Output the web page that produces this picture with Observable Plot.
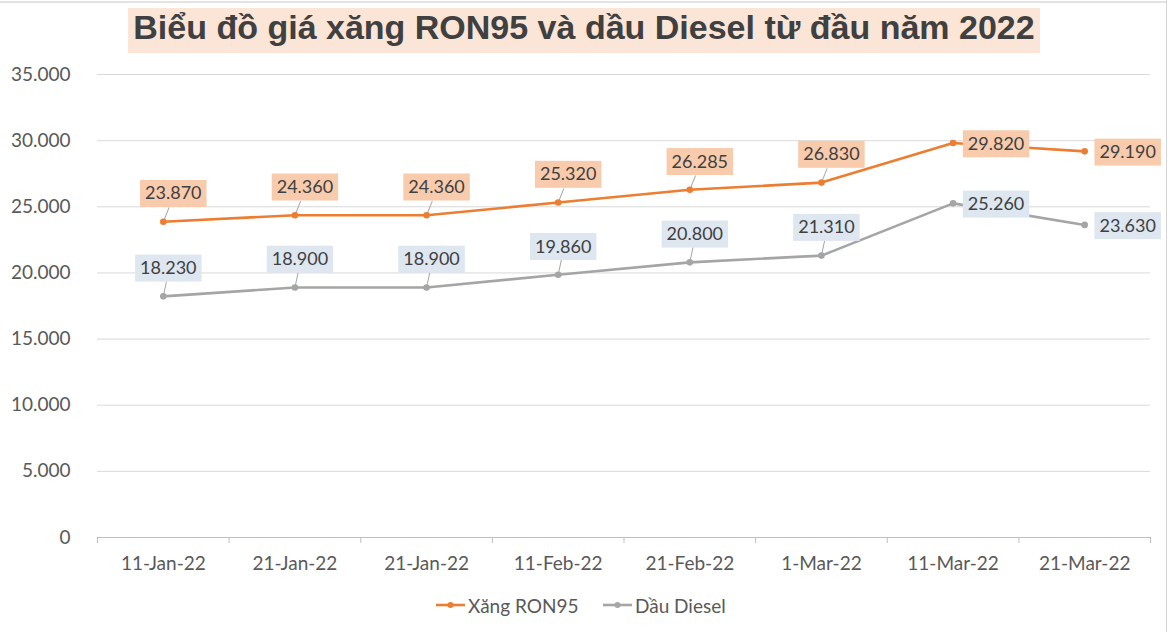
<!DOCTYPE html>
<html>
<head>
<meta charset="utf-8">
<script src="https://cdn.jsdelivr.net/npm/d3@7"></script>
<script src="https://cdn.jsdelivr.net/npm/@observablehq/plot@0.6"></script>
<style>
  body { margin: 0; background: #fff; }
  #wrap { width: 1171px; height: 632px; position: relative; overflow: hidden; background: #fff; }
  #frameTop { position: absolute; left: 0; top: 1px; width: 1166px; height: 0; border-top: 2px solid #e3e3e3; }
  #frameRight { position: absolute; left: 1166px; top: 0; width: 0; height: 632px; border-left: 1px solid #d4d4d4; }
  #title { height: 64px; position: relative; }
  #title span {
    position: absolute; left: 128px; top: 8px; width: 912px; height: 45px;
    background: #fbe5d6; color: #404040; text-align: center; line-height: 47px;
    font: bold 34px "Liberation Sans", Arial, sans-serif; white-space: nowrap;
  }
  #chart { height: 526px; }
  #legend { height: 42px; position: relative; font: 19px Lato, "Open Sans", sans-serif; color: #595959; }
  .item { position: absolute; top: 0; height: 30px; display: flex; align-items: center; }
  .item svg { margin-right: 3px; }
</style>
</head>
<body>
<div id="wrap">
  <div id="frameTop"></div>
  <div id="frameRight"></div>
  <div id="title"><span>Biểu đồ giá xăng RON95 và dầu Diesel từ đầu năm 2022</span></div>
  <div id="chart"></div>
  <div id="legend"></div>
</div>
<script>
const dates = ["11-Jan-22", "21-Jan-22", "21-Jan-22", "11-Feb-22", "21-Feb-22", "1-Mar-22", "11-Mar-22", "21-Mar-22"];
const ron95 = [23870, 24360, 24360, 25320, 26285, 26830, 29820, 29190];
const diesel = [18230, 18900, 18900, 19860, 20800, 21310, 25260, 23630];
const yTicks = [0, 5000, 10000, 15000, 20000, 25000, 30000, 35000];
const seriesNames = ["Xăng RON95", "Dầu Diesel"];
const seriesColors = ["#ed7d31", "#a5a5a5"];
const boxColors = ["#f8cbad", "#dee6f0"];

const vn = d3.formatLocale({decimal: ",", thousands: ".", grouping: [3], currency: ["", "₫"]});
const fmt = vn.format(",d");

const idx = d3.range(dates.length);
const ronRows = idx.map(i => ({i, value: ron95[i]}));
const dieselRows = idx.map(i => ({i, value: diesel[i]}));
const nAbove = dates.length - 2; // last two labels sit to the right of their point

function seriesMarks(rows, color, name, ldx) {
  const above = rows.filter(d => d.i < nAbove);
  const right = rows.filter(d => d.i >= nAbove);
  const tag = () => "lab-" + name;
  return [
    Plot.vector(above, {
      x: "i", y: "value", length: 15, rotate: ldx > 7 ? 22 : 12, anchor: "start",
      stroke: "#a6a6a6", strokeWidth: 1,
      shape: {draw(ctx, l) { ctx.moveTo(0, 0); ctx.lineTo(0, -l); }}
    }),
    Plot.line(rows, {x: "i", y: "value", stroke: color, strokeWidth: 2.6}),
    Plot.dot(rows, {x: "i", y: "value", fill: color, r: 3.3}),
    Plot.text(above, {x: "i", y: "value", text: d => fmt(d.value), dx: ldx, dy: -28,
      fontSize: 18, fill: "#404040", ariaLabel: tag}),
    Plot.text(right, {x: "i", y: "value", text: d => fmt(d.value), dx: 43, dy: 1,
      fontSize: 18, fill: "#404040", ariaLabel: tag})
  ];
}

const chart = Plot.plot({
  width: 1171,
  height: 526,
  marginTop: 10,
  marginBottom: 53,
  marginLeft: 97,
  marginRight: 21,
  style: {fontFamily: "Lato, 'Open Sans', sans-serif", background: "transparent", overflow: "visible"},
  x: {type: "linear", domain: [-0.5, dates.length - 0.5]},
  y: {domain: [0, 35000]},
  marks: [
    Plot.gridY(yTicks.filter(v => v > 0), {stroke: "#d9d9d9", strokeOpacity: 1, strokeWidth: 1}),
    Plot.ruleY([0], {stroke: "#bfbfbf", strokeWidth: 1}),
    Plot.axisY(yTicks, {tickSize: 0, tickPadding: 27, tickFormat: fmt, fontSize: 19, fill: "#595959", label: null}),
    Plot.axisX(idx, {tickSize: 0, tickPadding: 19, tickFormat: i => dates[i], fontSize: 19, fill: "#595959", label: null}),
    Plot.axisX(d3.range(dates.length + 1).map(k => k - 0.5), {tickSize: 6, stroke: "#bfbfbf", tickFormat: () => "", label: null}),
    ...seriesMarks(ronRows, seriesColors[0], "ron", 10),
    ...seriesMarks(dieselRows, seriesColors[1], "diesel", 5)
  ]
});
document.getElementById("chart").append(chart);

// background boxes behind data labels
const NS = "http://www.w3.org/2000/svg";
chart.querySelectorAll('text[aria-label^="lab-"]').forEach(t => {
  const fill = t.getAttribute("aria-label") === "lab-ron" ? boxColors[0] : boxColors[1];
  const b = t.getBBox();
  const r = document.createElementNS(NS, "rect");
  r.setAttribute("x", b.x - 5);
  r.setAttribute("y", b.y - 1.5);
  r.setAttribute("width", b.width + 10);
  r.setAttribute("height", b.height + 5);
  r.setAttribute("fill", fill);
  r.setAttribute("stroke", "none");
  if (t.getAttribute("transform")) r.setAttribute("transform", t.getAttribute("transform"));
  t.parentNode.insertBefore(r, t);
});

// legend
const legend = document.getElementById("legend");
const lefts = [436, 603];
seriesNames.forEach((name, k) => {
  const item = document.createElement("div");
  item.className = "item";
  item.style.left = lefts[k] + "px";
  item.innerHTML = `<svg width="29" height="10"><line x1="0" y1="5" x2="29" y2="5" stroke="${seriesColors[k]}" stroke-width="2.6"/><circle cx="14.5" cy="5" r="3" fill="${seriesColors[k]}"/></svg><span>${name}</span>`;
  legend.append(item);
});
</script>
</body>
</html>
